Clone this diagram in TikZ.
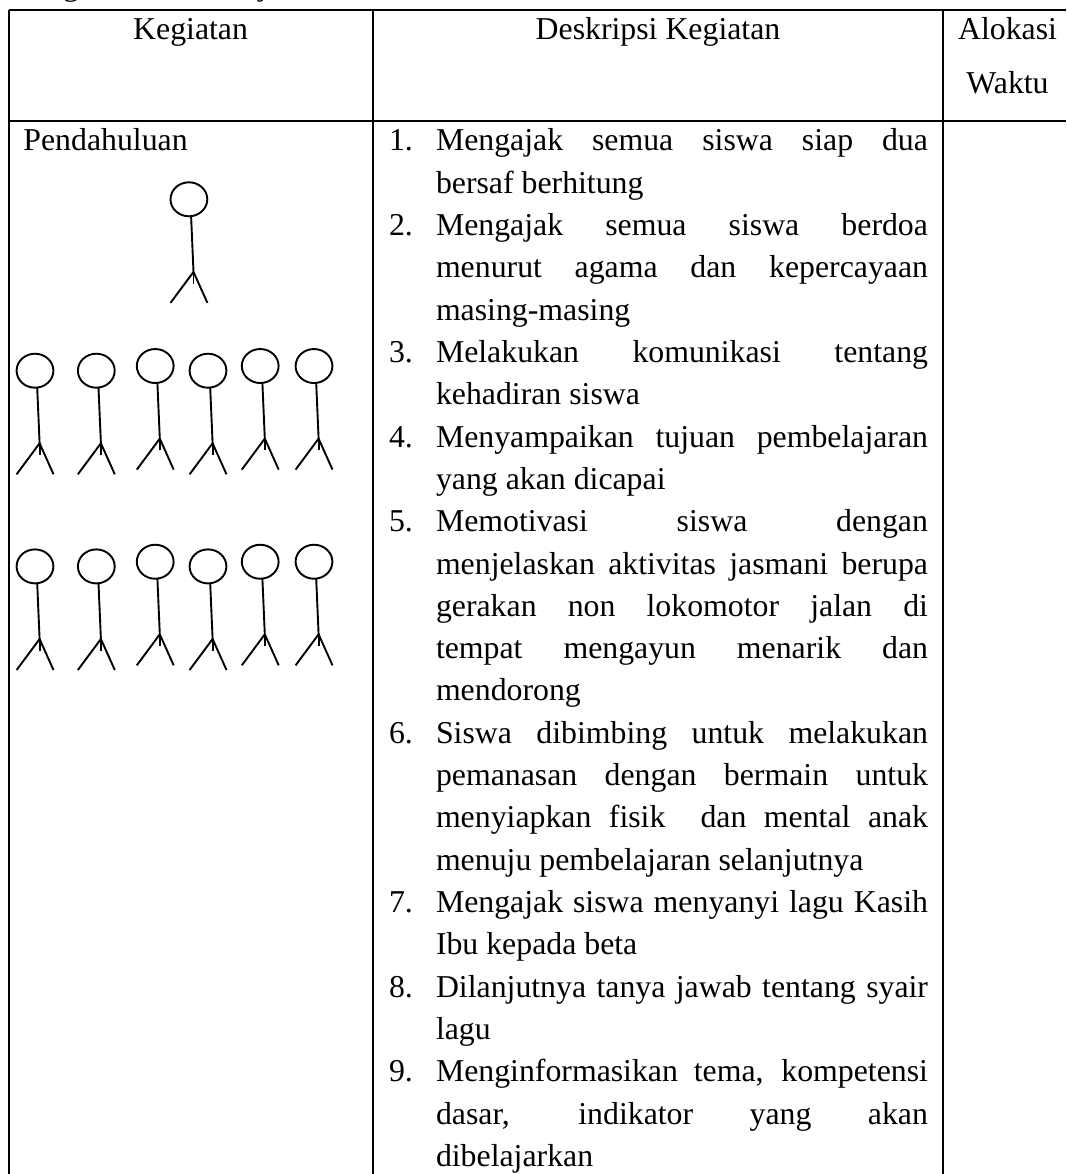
\documentclass[tikz,border=0pt]{standalone}
\usepackage{fontspec}
\setmainfont{Liberation Serif}
\newcommand\jl[1]{\makebox[492pt][s]{\spaceskip=0pt\relax #1}}
\tikzset{
  x=1pt,y=-1pt,
  rule/.style={line width=2.2pt,black},
  txt/.style={inner sep=0pt,outer sep=0pt,font=\fontsize{31.8}{42.33}\selectfont,text=black},
  head/.style={txt,anchor=base},
  num/.style={txt,anchor=base west},
  item/.style={txt,anchor=base west,text width=492pt,align=flush left},
  stick/.style={line width=1.9pt,black},
  pics/person/.style={code={
    \draw[stick] (18.4,17) ellipse [x radius=18.4,y radius=17];
    \draw[stick] (20.6,34) -- (23,89.6) -- (0,120.6);
    \draw[stick] (23,89.6) -- (36.9,120.6);
    \draw[stick] (23,89.6) -- (23,101.3);
  }}
}
\begin{document}
\begin{tikzpicture}
\useasboundingbox (0,0) rectangle (1066,1174);
\clip (0,0) rectangle (1066,1174);
% cut-off line above the table
\node[num] (caption) at (26,-4) {Kegiatan Pembelajaran};
% table rules
\coordinate (tl) at (9,10);
\coordinate (tr) at (1066,10);
\coordinate (ml) at (9,120.7);
\coordinate (mr) at (1066,120.7);
\coordinate (bl) at (9,1174);
\coordinate (ca) at (373,10);
\coordinate (cb) at (373,1174);
\coordinate (da) at (943.3,10);
\coordinate (db) at (943.3,1174);
\draw[rule] (tl) -- (tr);
\draw[rule] (ml) -- (mr);
\draw[rule] (tl) -- (bl);
\draw[rule] (ca) -- (cb);
\draw[rule] (da) -- (db);
% header
\node[head] (h1) at (190.6,40) {Kegiatan};
\node[head] (h2) at (658,40) {Deskripsi Kegiatan};
\node[head] (h3) at (1007.5,40) {Alokasi};
\node[head] (h4) at (1007.5,94) {Waktu};
\node[num] (pend) at (23.4,150.7) {Pendahuluan};
% people
\pic at (170.5,182.3) {person};
\foreach \r in {0,195.7}{
  \foreach \dx/\dy in {0/0,61.3/0,120.2/-4.67,173/0,225.2/-4.67,279/-4.67}{
    \pic at ({16.6+\dx},{353.7+\dy+\r}) {person};
  }
}
% list
\node[num] (n1) at (389,150.7) {1.};
\node[item] (i1) at (436,150.7) {\jl{Mengajak semua siswa siap dua}\\bersaf berhitung};
\node[num] (n2) at (389,235.36) {2.};
\node[item] (i2) at (436,235.36) {\jl{Mengajak semua siswa berdoa}\\\jl{menurut agama dan kepercayaan}\\masing-masing};
\node[num] (n3) at (389,362.35) {3.};
\node[item] (i3) at (436,362.35) {\jl{Melakukan komunikasi tentang}\\kehadiran siswa};
\node[num] (n4) at (389,447.01) {4.};
\node[item] (i4) at (436,447.01) {\jl{Menyampaikan tujuan pembelajaran}\\yang akan dicapai};
\node[num] (n5) at (389,531.67) {5.};
\node[item] (i5) at (436,531.67) {\jl{Memotivasi siswa dengan}\\\jl{menjelaskan aktivitas jasmani berupa}\\\jl{gerakan non lokomotor jalan di}\\\jl{tempat mengayun menarik dan}\\mendorong};
\node[num] (n6) at (389,743.32) {6.};
\node[item] (i6) at (436,743.32) {\jl{Siswa dibimbing untuk melakukan}\\\jl{pemanasan dengan bermain untuk}\\\jl{menyiapkan fisik\ \ dan mental anak}\\menuju pembelajaran selanjutnya};
\node[num] (n7) at (389,912.64) {7.};
\node[item] (i7) at (436,912.64) {\jl{Mengajak siswa menyanyi lagu Kasih}\\Ibu kepada beta};
\node[num] (n8) at (389,997.3) {8.};
\node[item] (i8) at (436,997.3) {\jl{Dilanjutnya tanya jawab tentang syair}\\lagu};
\node[num] (n9) at (389,1081.96) {9.};
\node[item] (i9) at (436,1081.96) {\jl{Menginformasikan tema, kompetensi}\\\jl{dasar, indikator yang akan}\\dibelajarkan};
\end{tikzpicture}
\end{document}
